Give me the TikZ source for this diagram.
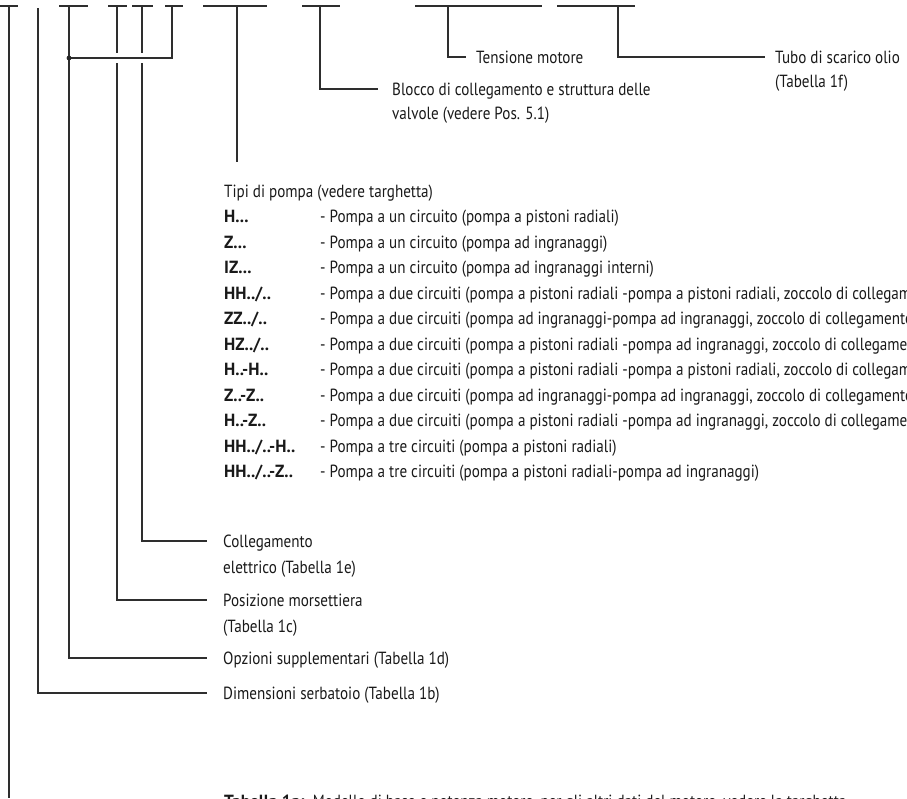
\documentclass[tikz,border=0pt]{standalone}
\usepackage{fontspec}
\setmainfont{PT Sans}
\newlength\mylen
\settowidth\mylen{\normalfont\fontsize{17.6}{25}\selectfont - Pompa a due circuiti (pompa a pistoni radiali -pompa a pistoni radiali, zoccolo di collegan}
\pgfmathsetmacro\myfac{587/\mylen}
\edef\mytmp{\noexpand\setmainfont{PT Sans}[FakeStretch=\myfac]}
\mytmp
\newfontfamily\codefont{PT Sans}[FakeStretch=0.98]
\tikzset{
  ln/.style={line width=1.1pt, draw=black!82},
  lbl/.style={anchor=base west, inner sep=0pt, text=black!90, font=\fontsize{17.6}{25}\selectfont},
  code/.style={lbl, font=\fontsize{17.6}{25}\selectfont\codefont\bfseries},
}
\newcommand\rowy[1]{222.5+25.5*#1}
\begin{document}
\begin{tikzpicture}[x=1pt,y=-1pt]
\useasboundingbox (0,0) rectangle (907,798);
\clip (0,0) rectangle (907,798);
% top segments
\draw[ln] (0,6) -- (18,6);
\draw[ln] (59,6) -- (88,6);
\draw[ln] (108,6) -- (127,6);
\draw[ln] (132,6) -- (153,6);
\draw[ln] (165,6) -- (183,6);
\draw[ln] (203,6) -- (267,6);
\draw[ln] (302,6) -- (340,6);
\draw[ln] (415,6) -- (542,6);
\draw[ln] (557,6) -- (635,6);
% named junction coordinates
\coordinate (tA) at (9,6);
\coordinate (tB) at (38,8);
\coordinate (tC) at (69,6);
\coordinate (tD) at (117,6);
\coordinate (tE) at (142,6);
\coordinate (tF) at (172,6);
\coordinate (tG) at (237,6);
\coordinate (tH) at (320,6);
\coordinate (tI) at (448,6);
\coordinate (tJ) at (618,6);
\coordinate (dot) at (69,58);
\coordinate (bot) at (9,798);
% labels
\node[lbl] (tens) at (476,63) {Tensione motore};
\node[lbl] (tubo1) at (775,63) {Tubo di scarico olio};
\node[lbl] (tubo2) at (775,87) {(Tabella 1f)};
\node[lbl] (bl1) at (392,95) {Blocco di collegamento e struttura delle};
\node[lbl] (bl2) at (392,119) {valvole (vedere Pos. 5.1)};
\node[lbl] (tipi) at (224,197) {Tipi di pompa (vedere targhetta)};
\node[code] (c0) at (224,{\rowy{0}}) {H...};
\node[code] (c1) at (224,{\rowy{1}}) {Z...};
\node[code] (c2) at (224,{\rowy{2}}) {IZ...};
\node[code] (c3) at (224,{\rowy{3}}) {HH../..};
\node[code] (c4) at (224,{\rowy{4}}) {ZZ../..};
\node[code] (c5) at (224,{\rowy{5}}) {HZ../..};
\node[code] (c6) at (224,{\rowy{6}}) {H..-H..};
\node[code] (c7) at (224,{\rowy{7}}) {Z..-Z..};
\node[code] (c8) at (224,{\rowy{8}}) {H..-Z..};
\node[code] (c9) at (224,{\rowy{9}}) {HH../..-H..};
\node[code] (c10) at (224,{\rowy{10}}) {HH../..-Z..};
\node[lbl] (d0) at (320,{\rowy{0}}) {- Pompa a un circuito (pompa a pistoni radiali)};
\node[lbl] (d1) at (320,{\rowy{1}}) {- Pompa a un circuito (pompa ad ingranaggi)};
\node[lbl] (d2) at (320,{\rowy{2}}) {- Pompa a un circuito (pompa ad ingranaggi interni)};
\node[lbl] (d3) at (320,{\rowy{3}}) {- Pompa a due circuiti (pompa a pistoni radiali -pompa a pistoni radiali, zoccolo di collegamento};
\node[lbl] (d4) at (320,{\rowy{4}}) {- Pompa a due circuiti (pompa ad ingranaggi-pompa ad ingranaggi, zoccolo di collegamento};
\node[lbl] (d5) at (320,{\rowy{5}}) {- Pompa a due circuiti (pompa a pistoni radiali -pompa ad ingranaggi, zoccolo di collegamento};
\node[lbl] (d6) at (320,{\rowy{6}}) {- Pompa a due circuiti (pompa a pistoni radiali -pompa a pistoni radiali, zoccolo di collegamento};
\node[lbl] (d7) at (320,{\rowy{7}}) {- Pompa a due circuiti (pompa ad ingranaggi-pompa ad ingranaggi, zoccolo di collegamento};
\node[lbl] (d8) at (320,{\rowy{8}}) {- Pompa a due circuiti (pompa a pistoni radiali -pompa ad ingranaggi, zoccolo di collegamento};
\node[lbl] (d9) at (320,{\rowy{9}}) {- Pompa a tre circuiti (pompa a pistoni radiali)};
\node[lbl] (d10) at (320,{\rowy{10}}) {- Pompa a tre circuiti (pompa a pistoni radiali-pompa ad ingranaggi)};
\node[lbl] (col1) at (223,547) {Collegamento};
\node[lbl] (col2) at (223,573) {elettrico (Tabella 1e)};
\node[lbl] (pos1) at (223,606) {Posizione morsettiera};
\node[lbl] (pos2) at (223,632) {(Tabella 1c)};
\node[lbl] (opz) at (223,664) {Opzioni supplementari (Tabella 1d)};
\node[lbl] (dim) at (223,699) {Dimensioni serbatoio (Tabella 1b)};
\node[lbl] (tab) at (224,807) {{\codefont\bfseries Tabella 1a:}\ \ Modello di base e potenza motore, per gli altri dati del motore, vedere la targhetta};
% end points of leader lines
\coordinate (eTens) at (466,57);
\coordinate (eTubo) at (765,57);
\coordinate (eBl) at (378,89);
\coordinate (eTipi) at (237,162);
\coordinate (eCol) at (207,541);
\coordinate (ePos) at (207,600);
\coordinate (eOpz) at (207,658);
\coordinate (eDim) at (207,693);
% connectors
\draw[ln] (tA) -- (bot);
\draw[ln] (tB) |- (eDim);
\draw[ln] (tC) |- (eOpz);
\draw[ln] (tF) |- (dot);
\fill[black!85] (dot) circle (2.4);
\draw[ln] (tD) -- (117,53);
\draw[ln] (117,63) |- (ePos);
\draw[ln] (tE) -- (142,53);
\draw[ln] (142,63) |- (eCol);
\draw[ln] (tG) -- (eTipi);
\draw[ln] (tH) |- (eBl);
\draw[ln] (tI) |- (eTens);
\draw[ln] (tJ) |- (eTubo);
\end{tikzpicture}
\end{document}
